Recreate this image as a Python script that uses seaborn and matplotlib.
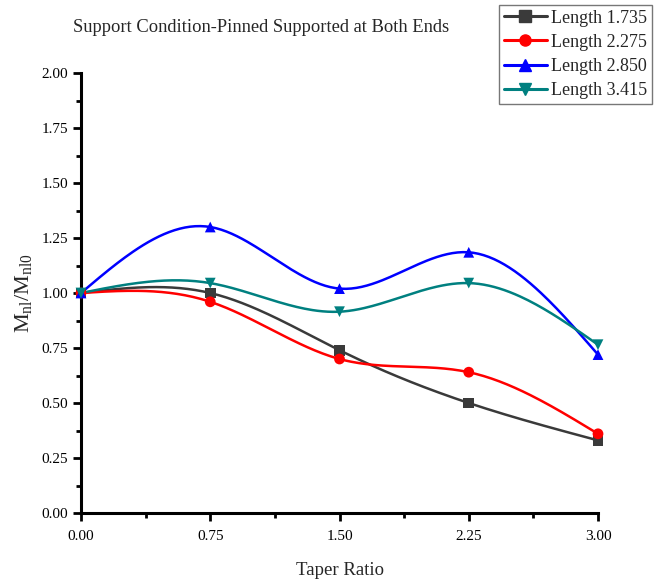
import numpy as np
import pandas as pd
import matplotlib
matplotlib.use("Agg")
import matplotlib.pyplot as plt
from matplotlib.lines import Line2D
from matplotlib.ticker import MultipleLocator, FormatStrFormatter
import seaborn as sns

# Data
taper_ratio = [0.00, 0.75, 1.50, 2.25, 3.00]
series_names = ["Length 1.735", "Length 2.275", "Length 2.850", "Length 3.415"]
len_1735 = [1.00, 1.00, 0.74, 0.50, 0.33]
len_2275 = [1.00, 0.96, 0.70, 0.64, 0.36]
len_2850 = [1.00, 1.30, 1.02, 1.185, 0.72]
len_3415 = [1.00, 1.045, 0.915, 1.045, 0.765]

colors = ["#3a3a3a", "#ff0000", "#0000ff", "#008080"]
markers = ["s", "o", "^", "v"]


def natural_spline(x, y, n=200):
    """Natural cubic spline through (x, y), evaluated on a fine grid."""
    x = np.asarray(x, float)
    y = np.asarray(y, float)
    k = len(x)
    h = np.diff(x)
    A = np.zeros((k, k))
    b = np.zeros(k)
    A[0, 0] = A[-1, -1] = 1.0
    for i in range(1, k - 1):
        A[i, i - 1] = h[i - 1]
        A[i, i] = 2 * (h[i - 1] + h[i])
        A[i, i + 1] = h[i]
        b[i] = 6 * ((y[i + 1] - y[i]) / h[i] - (y[i] - y[i - 1]) / h[i - 1])
    M = np.linalg.solve(A, b)
    xs = np.linspace(x[0], x[-1], n)
    idx = np.clip(np.searchsorted(x, xs, side="right") - 1, 0, k - 2)
    x0, x1 = x[idx], x[idx + 1]
    hh = x1 - x0
    a = (x1 - xs) / hh
    c = (xs - x0) / hh
    ys = (a * y[idx] + c * y[idx + 1]
          + ((a ** 3 - a) * M[idx] + (c ** 3 - c) * M[idx + 1]) * hh ** 2 / 6)
    return xs, ys


series_values = [len_1735, len_2275, len_2850, len_3415]

points = pd.DataFrame({
    "Taper Ratio": np.tile(taper_ratio, len(series_names)),
    "value": np.concatenate(series_values),
    "series": np.repeat(series_names, len(taper_ratio)),
})

curves = []
for name, vals in zip(series_names, series_values):
    xs, ys = natural_spline(taper_ratio, vals)
    curves.append(pd.DataFrame({"Taper Ratio": xs, "value": ys, "series": name}))
curves = pd.concat(curves, ignore_index=True)

sns.set_theme(style="ticks")
plt.rcParams["font.family"] = ["Liberation Serif", "DejaVu Serif"]
plt.rcParams["mathtext.fontset"] = "custom"
plt.rcParams["mathtext.rm"] = "Liberation Serif"
plt.rcParams["mathtext.it"] = "Liberation Serif:italic"

fig = plt.figure(figsize=(6.54, 5.83), dpi=100)
W, H = 654, 583
ax = fig.add_axes([81 / W, 1 - 513 / H, (598 - 81) / W, (513 - 73) / H])

palette = dict(zip(series_names, colors))
sns.lineplot(data=curves, x="Taper Ratio", y="value", hue="series",
             palette=palette, linewidth=1.8, legend=False, ax=ax,
             sort=False, estimator=None)
sns.scatterplot(data=points, x="Taper Ratio", y="value", hue="series",
                style="series", palette=palette,
                markers=dict(zip(series_names, markers)),
                s=60, edgecolor="none", legend=False, ax=ax, zorder=3,
                clip_on=False)

ax.set_xlim(0, 3.0)
ax.set_ylim(0, 2.0)
ax.xaxis.set_major_locator(MultipleLocator(0.75))
ax.xaxis.set_minor_locator(MultipleLocator(0.375))
ax.yaxis.set_major_locator(MultipleLocator(0.25))
ax.yaxis.set_minor_locator(MultipleLocator(0.125))
ax.xaxis.set_major_formatter(FormatStrFormatter("%.2f"))
ax.yaxis.set_major_formatter(FormatStrFormatter("%.2f"))

for side in ["top", "right"]:
    ax.spines[side].set_visible(False)
for side in ["left", "bottom"]:
    ax.spines[side].set_linewidth(2.2)
    ax.spines[side].set_color("black")
ax.tick_params(which="major", length=6, width=2, labelsize=11,
               colors="black", pad=3)
ax.tick_params(which="minor", length=3.5, width=2, colors="black")
ax.tick_params(axis="x", pad=6)

ax.set_xlabel("Taper Ratio", fontsize=13.5, labelpad=14)
ax.set_ylabel(r"M$_{\rm nl}$/M$_{\rm nl0}$", fontsize=16, labelpad=6)

fig.text(261 / W, 1 - 28 / H, "Support Condition-Pinned Supported at Both Ends",
         ha="center", va="center", fontsize=13.3)

handles = [Line2D([], [], color=c, marker=m, markersize=8, linewidth=2.2)
           for c, m in zip(colors, markers)]
leg = fig.legend(handles, series_names, loc="upper right",
                 bbox_to_anchor=(652 / W, 1 - 5 / H), fontsize=13,
                 frameon=True, fancybox=False, handlelength=2.4,
                 handletextpad=0.25, labelspacing=0.4, borderpad=0.25,
                 borderaxespad=0)
leg.get_frame().set_edgecolor("#555555")
leg.get_frame().set_linewidth(1.0)

fig.savefig("out.png", dpi=100)
